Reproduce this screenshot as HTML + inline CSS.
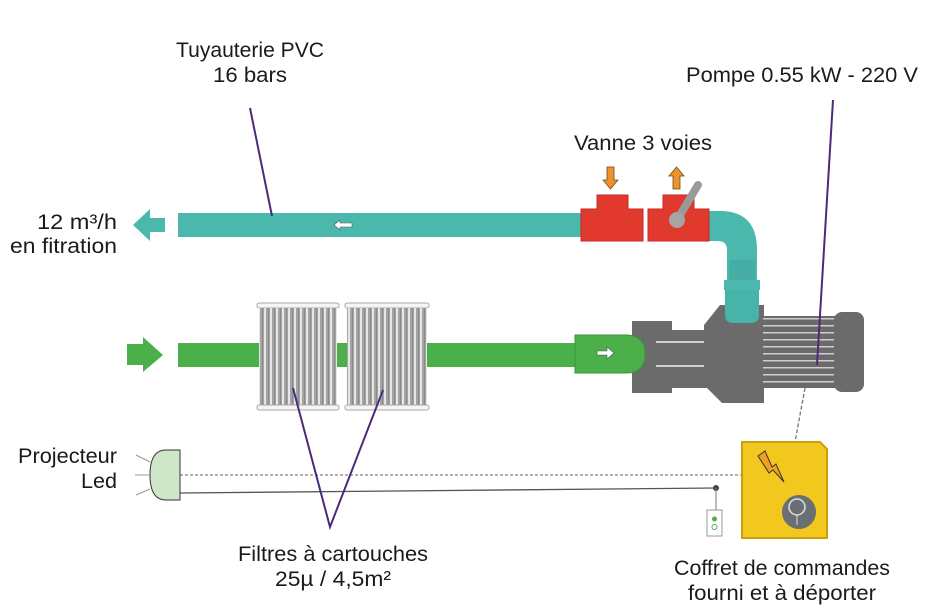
<!DOCTYPE html>
<html><head><meta charset="utf-8"><style>
html,body{margin:0;padding:0;background:#fff;width:932px;height:616px;overflow:hidden}
svg{display:block}
text{font-family:"Liberation Sans",sans-serif;font-size:21px;fill:#1a1a1a}
</style></head><body>
<svg width="932" height="616" viewBox="0 0 932 616" xmlns="http://www.w3.org/2000/svg">
<defs>
<pattern id="fins" width="6" height="81" patternUnits="userSpaceOnUse">
<rect width="6" height="81" fill="#a4a4a4"/><rect x="0" width="2" height="81" fill="#e6e6e6"/><rect x="4" width="1" height="81" fill="#8a8a8a"/>
</pattern>
<pattern id="mfins" width="73" height="7" patternUnits="userSpaceOnUse" x="763" y="316">
<rect width="73" height="7" fill="#6a6a6a"/><rect y="2" width="73" height="1.5" fill="#cfcfcf"/>
</pattern>
</defs>

<!-- labels -->
<text x="250" y="57" text-anchor="middle" textLength="148" lengthAdjust="spacingAndGlyphs">Tuyauterie PVC</text>
<text x="250" y="82" text-anchor="middle" textLength="74" lengthAdjust="spacingAndGlyphs">16 bars</text>
<text x="802" y="82" text-anchor="middle" textLength="232" lengthAdjust="spacingAndGlyphs">Pompe 0.55 kW - 220 V</text>
<text x="643" y="150" text-anchor="middle" textLength="138" lengthAdjust="spacingAndGlyphs">Vanne 3 voies</text>
<text x="117" y="229" text-anchor="end" textLength="80" lengthAdjust="spacingAndGlyphs">12 m³/h</text>
<text x="117" y="253" text-anchor="end" textLength="107" lengthAdjust="spacingAndGlyphs">en fitration</text>
<text x="117" y="463" text-anchor="end" textLength="99" lengthAdjust="spacingAndGlyphs">Projecteur</text>
<text x="117" y="488" text-anchor="end" textLength="36" lengthAdjust="spacingAndGlyphs">Led</text>
<text x="333" y="561" text-anchor="middle" textLength="190" lengthAdjust="spacingAndGlyphs">Filtres à cartouches</text>
<text x="333" y="586" text-anchor="middle" textLength="116" lengthAdjust="spacingAndGlyphs">25µ / 4,5m²</text>
<text x="782" y="575" text-anchor="middle" textLength="216" lengthAdjust="spacingAndGlyphs">Coffret de commandes</text>
<text x="782" y="600" text-anchor="middle" textLength="188" lengthAdjust="spacingAndGlyphs">fourni et à déporter</text>

<!-- teal pipe -->
<polygon points="133,225 150,209 150,218 165,218 165,232 150,232 150,241" fill="#4bb8ae"/>
<rect x="178" y="213" width="405" height="24" fill="#4bb8ae"/>
<polygon points="334,225 340,220 340,223 352,223 352,227 340,227 340,230" fill="#fff" stroke="#555" stroke-width="0.6"/>
<!-- elbow -->
<path d="M708,211 L720,211 Q757,211 757,250 L757,285 L727,285 L727,250 Q727,241 718,241 L708,241 Z" fill="#4bb8ae"/>
<rect x="729" y="260" width="26" height="22" fill="#45ada3"/>
<rect x="724" y="280" width="36" height="10" fill="#4bb8ae"/>
<line x1="725" y1="293" x2="759" y2="293" stroke="#2f8f86" stroke-width="1"/>
<!-- red tees -->
<path d="M581,209 L597,209 L597,195 L628,195 L628,209 L643,209 L643,241 L581,241 Z" fill="#e1392e" stroke="#c62a22"/>
<path d="M648,209 L663,209 L663,195 L694,195 L694,209 L709,209 L709,241 L648,241 Z" fill="#e1392e" stroke="#c62a22"/>
<line x1="677" y1="220" x2="698" y2="185" stroke="#9a9a9a" stroke-width="8" stroke-linecap="round"/>
<circle cx="677" cy="220" r="8" fill="#a5a5a5"/>
<!-- orange arrows -->
<polygon points="607,167 614,167 614,180 618,180 610.5,189 603,180 607,180" fill="#f0922b" stroke="#6a4a20" stroke-width="0.8"/>
<polygon points="673,189 680,189 680,176 684,176 676.5,167 669,176 673,176" fill="#f0922b" stroke="#6a4a20" stroke-width="0.8"/>

<!-- green pipe -->
<polygon points="127,344 143,344 143,337 163,355 143,372 143,365 127,365" fill="#4cb04a"/>
<rect x="178" y="343" width="402" height="24" fill="#4cb04a"/>
<!-- filters -->
<g>
<rect x="257" y="303" width="82" height="5" rx="2" fill="#f4f4f4" stroke="#aaa"/>
<rect x="259" y="308" width="78" height="98" fill="url(#fins)"/>
<rect x="257" y="405" width="82" height="5" rx="2" fill="#f4f4f4" stroke="#aaa"/>
<rect x="345" y="303" width="84" height="5" rx="2" fill="#f4f4f4" stroke="#aaa"/>
<rect x="347" y="308" width="80" height="98" fill="url(#fins)"/>
<rect x="345" y="405" width="84" height="5" rx="2" fill="#f4f4f4" stroke="#aaa"/>
</g>
<!-- pump -->
<rect x="632" y="321" width="40" height="72" fill="#6b6b6b"/>
<rect x="671" y="330" width="40" height="58" fill="#6b6b6b"/>
<line x1="656" y1="342" x2="716" y2="342" stroke="#cfcfcf" stroke-width="2"/>
<line x1="656" y1="366" x2="716" y2="366" stroke="#cfcfcf" stroke-width="2"/>
<path d="M720,305 L764,305 L764,403 L722,403 L704,385 L704,325 Z" fill="#6b6b6b"/>
<path d="M725,290 L759,290 L759,315 Q759,323 751,323 L733,323 Q725,323 725,315 Z" fill="#48b3a9"/>
<rect x="763" y="316" width="73" height="72" fill="url(#mfins)"/>
<rect x="834" y="312" width="30" height="80" rx="8" fill="#6b6b6b"/>
<!-- green connector on top -->
<path d="M575,335 L626,335 Q645,335 645,354 Q645,373 626,373 L575,373 Z" fill="#4cb04a" stroke="#3a9438"/>
<polygon points="597,351 607,351 607,347 614,353 607,359 607,355 597,355" fill="#fff" stroke="#555" stroke-width="0.6"/>

<!-- wiring -->
<line x1="180" y1="475" x2="742" y2="475" stroke="#b8b0a0" stroke-width="2" stroke-dasharray="3,2"/>
<path d="M180,493 L716,488" stroke="#555" stroke-width="1.3" fill="none"/>
<circle cx="716" cy="488" r="3" fill="#444"/>
<line x1="716" y1="488" x2="716" y2="510" stroke="#777"/>
<rect x="707" y="510" width="15" height="26" fill="#fff" stroke="#999"/>
<circle cx="714.5" cy="519" r="2.5" fill="#4cb04a"/>
<circle cx="714.5" cy="527" r="2.5" fill="none" stroke="#4cb04a"/>
<line x1="805" y1="388" x2="795" y2="442" stroke="#777" stroke-width="1.3" stroke-dasharray="4,2"/>
<!-- lamp -->
<path d="M180,450 L166,450 Q150,450 150,475 Q150,500 166,500 L180,500 Z" fill="#cfe7c9" stroke="#333" stroke-width="1"/>
<line x1="136" y1="455" x2="150" y2="462" stroke="#999"/>
<line x1="135" y1="475" x2="149" y2="475" stroke="#999"/>
<line x1="136" y1="495" x2="150" y2="489" stroke="#999"/>
<!-- control box -->
<path d="M742,442 L820,442 L827,449 L827,538 L742,538 Z" fill="#f3c81e" stroke="#c9a10e" stroke-width="2"/>
<path d="M758,456 L765,451 L772,467 L776,464 L784,482 L773,470 L769,473 Z" fill="#f0a020" stroke="#333"/>
<circle cx="799" cy="512" r="17" fill="#6a6f74"/>
<circle cx="797" cy="507" r="8" fill="none" stroke="#ddd" stroke-width="1.5"/>
<line x1="797" y1="515" x2="797" y2="525" stroke="#ddd"/>

<!-- purple pointer lines -->
<g stroke="#4b2a7a" stroke-width="2" fill="none">
<line x1="250" y1="108" x2="272" y2="216"/>
<line x1="833" y1="100" x2="817" y2="365"/>
<polyline points="293,388 330,527 383,390"/>
</g>
</svg>
</body></html>
